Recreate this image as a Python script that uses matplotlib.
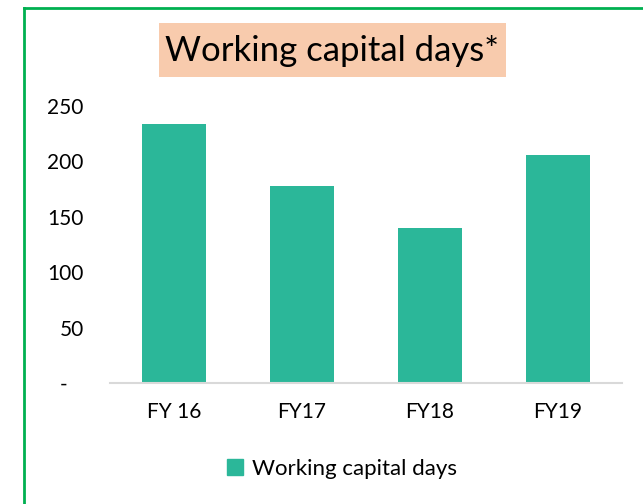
import matplotlib
matplotlib.use("Agg")
import matplotlib.pyplot as plt
from matplotlib.lines import Line2D
from matplotlib.patches import Patch, Rectangle

# data
years = ["FY 16", "FY17", "FY18", "FY19"]
wc_days = [234, 178, 140, 206]
yticks = [0, 50, 100, 150, 200, 250]
ytick_labels = ["-   ", "50", "100", "150", "200", "250"]

plt.rcParams["font.family"] = ["Lato", "DejaVu Sans"]
bar_col = "#2BB799"

W, H = 643, 504
fig = plt.figure(figsize=(W / 100, H / 100), dpi=100)
ax = fig.add_axes([110 / W, (H - 383) / H, 512 / W, 277 / H])

ax.bar(range(len(years)), wc_days, width=0.5, color=bar_col, zorder=2)
ax.set_xlim(-0.5, 3.5)
ax.set_ylim(0, 250)
ax.set_yticks(yticks)
ax.set_yticklabels(ytick_labels)
ax.set_xticks(range(len(years)))
ax.set_xticklabels(years)
ax.tick_params(axis="both", length=0, labelsize=15, colors="#000000")
ax.tick_params(axis="y", pad=19)
ax.tick_params(axis="x", pad=14)
for s in ["top", "right", "left"]:
    ax.spines[s].set_visible(False)
ax.spines["bottom"].set_color("#D9D9D9")
ax.spines["bottom"].set_linewidth(1.5)

# title box
fig.add_artist(Rectangle((159 / W, 1 - 77 / H), 347 / W, 54 / H,
                         transform=fig.transFigure, fc="#F8CBAD", ec="none"))
fig.text(332 / W, 1 - 51 / H, "Working capital days*", ha="center", va="center",
         fontsize=25)

# legend
fig.legend(handles=[Patch(color=bar_col, label="Working capital days")],
           loc="center", bbox_to_anchor=(342 / W, 1 - 469 / H), frameon=False,
           fontsize=16, handlelength=0.7, handleheight=0.7, handletextpad=0.4)

# green frame (only top and left visible in crop)
fig.add_artist(Line2D([24 / W, 24 / W], [0, 1 - 8 / H], color="#00B050", lw=2))
fig.add_artist(Line2D([24 / W, 1], [1 - 8 / H, 1 - 8 / H], color="#00B050", lw=2))

fig.savefig("out.png", dpi=100)
